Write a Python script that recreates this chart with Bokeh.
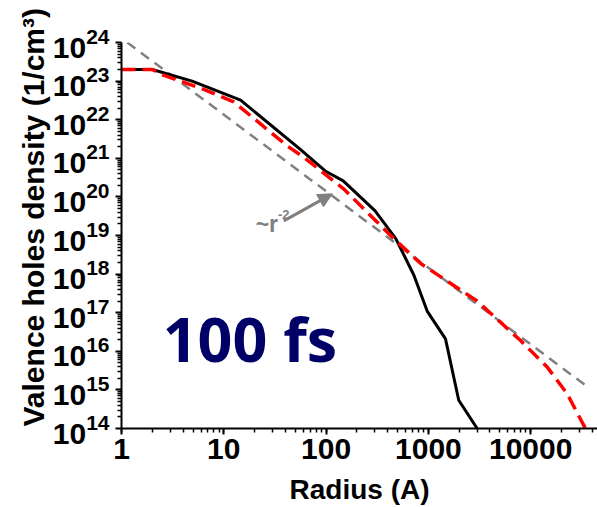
import math
from bokeh.plotting import figure
from bokeh.models import Range1d, PrintfTickFormatter, Arrow, NormalHead, Label, LogTicker, FixedTicker, Title
from bokeh.embed import file_html
from bokeh.resources import INLINE

# ---- data ----
black_r = [1, 2, 4.9, 14.6, 56, 98, 147, 300, 480, 720, 973, 1470, 1980, 3000]
black_n = [2e23, 2e23, 1e23, 3.2e22, 1.7e21, 4.7e20, 2.6e20, 4.4e19, 8.3e18, 9.5e17, 1.1e17, 2.1e16, 5.4e14, 1e14]

red_r = [1, 2, 2.6, 6.0, 12.5, 41.6, 61, 149, 459, 836, 3000, 7960, 14500, 22700, 34300]
red_n = [2e23, 2e23, 1.4e23, 6.5e22, 2.9e22, 2.1e21, 1.05e21, 1.6e20, 8.3e18, 1.9e18, 2.0e17, 1.9e16, 3.9e15, 8e14, 1e14]

guide_r = [1.14, 35900]
guide_n = [1e24, 1.2e15]

y_decades = list(range(14, 25))
y_ticks = [10.0 ** k for k in y_decades]
y_minor = [m * 10.0 ** k for k in y_decades[:-1] for m in range(2, 10)]

FONT = "Liberation Sans"

p = figure(width=597, height=507, x_axis_type="log", y_axis_type="log",
           x_range=Range1d(1, 45000), y_range=Range1d(1e14, 1e24),
           output_backend="svg", toolbar_location=None,
           min_border_left=121, min_border_right=0, min_border_top=42, min_border_bottom=75)
p.outline_line_color = None
p.grid.visible = False
p.background_fill_color = "white"
p.border_fill_color = "white"

p.line(guide_r, guide_n, line_color="#808080", line_width=2.5, line_dash="10 7")
p.line(black_r, black_n, line_color="black", line_width=3)
p.line(red_r, red_n, line_color="#ff0000", line_width=3.5, line_dash="14 7")

for ax in (p.xaxis[0], p.yaxis[0]):
    ax.axis_line_width = 2
    ax.major_tick_line_width = 2
    ax.minor_tick_line_width = 1.5
    ax.major_tick_in = 0
    ax.major_tick_out = 6
    ax.minor_tick_in = 0
    ax.minor_tick_out = 4
    ax.major_label_text_font = FONT
    ax.major_label_text_font_style = "bold"
    ax.major_label_text_color = "black"
    ax.axis_label_text_font = FONT
    ax.axis_label_text_font_style = "bold"
    ax.axis_label_text_color = "black"

p.xaxis.ticker = LogTicker(num_minor_ticks=10, desired_num_ticks=5)
p.xaxis.formatter = PrintfTickFormatter(format="%d")
p.xaxis.major_label_text_font_size = "30px"
p.xaxis.major_label_standoff = 4
p.xaxis.axis_label = "Radius (A)"
p.xaxis.axis_label_text_font_size = "28px"
p.xaxis.axis_label_standoff = 12

p.yaxis.ticker = FixedTicker(ticks=y_ticks, minor_ticks=y_minor)
p.yaxis.major_label_text_font_size = "30px"
p.yaxis.major_label_standoff = 6

p.add_layout(Title(text="Valence holes density (1/cm³)", align="left", offset=2,
                   text_font=FONT, text_font_style="bold", text_font_size="30px",
                   text_color="black", standoff=0), "left")

p.add_layout(Arrow(end=NormalHead(size=14, fill_color="#808080", line_color="#808080"),
                   x_start=38.6, y_start=2.4e19, x_end=115, y_end=1.2e20,
                   line_color="#808080", line_width=3))
p.add_layout(Label(x=20.5, y=2.0e19, text="~r", text_font=FONT, text_font_style="bold",
                   text_font_size="23px", text_color="#808080", text_baseline="alphabetic"))
p.add_layout(Label(x=33.8, y=3.6e19, text="-2", text_font=FONT, text_font_style="bold",
                   text_font_size="13px", text_color="#808080", text_baseline="alphabetic"))

p.add_layout(Label(x=2.53, y=10 ** 16.33, text="100 fs", text_font="Open Sans", text_font_style="bold",
                   text_font_size="61px", text_color="#000066", text_baseline="alphabetic"))

open("out.html", "w").write(file_html(p, INLINE))
